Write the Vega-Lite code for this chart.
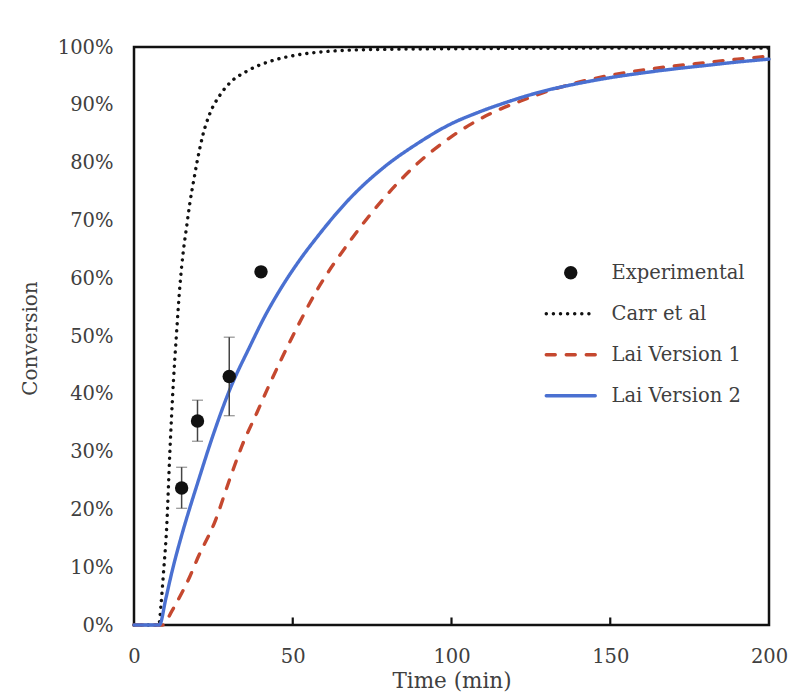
{
  "$schema": "https://vega.github.io/schema/vega-lite/v6.json",
  "width": 635,
  "height": 578,
  "autosize": {"type": "none"},
  "padding": {"left": 134, "top": 47, "right": 31, "bottom": 69},
  "background": "white",
  "config": {
    "view": {"stroke": "#111111", "strokeWidth": 2.5},
    "font": "DejaVu Serif",
    "axis": {"grid": false, "labelFont": "DejaVu Serif", "titleFont": "DejaVu Serif", "labelColor": "#404040", "titleColor": "#404040", "titleFontWeight": "normal"},
    "legend": {"labelFont": "DejaVu Serif", "labelColor": "#404040"}
  },
  "datasets": {
    "xticks": [{"t": 50}, {"t": 100}, {"t": 150}],
    "curves": [
      {"series": "Carr et al", "t": 0, "c": 0},
      {"series": "Carr et al", "t": 7.8, "c": 0},
      {"series": "Carr et al", "t": 8.5, "c": 0.035},
      {"series": "Carr et al", "t": 9.2, "c": 0.084},
      {"series": "Carr et al", "t": 10.3, "c": 0.17},
      {"series": "Carr et al", "t": 11.3, "c": 0.30},
      {"series": "Carr et al", "t": 12.4, "c": 0.42},
      {"series": "Carr et al", "t": 13.4, "c": 0.505},
      {"series": "Carr et al", "t": 14.5, "c": 0.59},
      {"series": "Carr et al", "t": 15.5, "c": 0.645},
      {"series": "Carr et al", "t": 16.6, "c": 0.69},
      {"series": "Carr et al", "t": 17.6, "c": 0.73},
      {"series": "Carr et al", "t": 19, "c": 0.775},
      {"series": "Carr et al", "t": 20, "c": 0.805},
      {"series": "Carr et al", "t": 21.8, "c": 0.85},
      {"series": "Carr et al", "t": 23.9, "c": 0.885},
      {"series": "Carr et al", "t": 27.1, "c": 0.917},
      {"series": "Carr et al", "t": 30.2, "c": 0.938},
      {"series": "Carr et al", "t": 35.5, "c": 0.958},
      {"series": "Carr et al", "t": 43.9, "c": 0.977},
      {"series": "Carr et al", "t": 51.2, "c": 0.986},
      {"series": "Carr et al", "t": 60, "c": 0.992},
      {"series": "Carr et al", "t": 70, "c": 0.995},
      {"series": "Carr et al", "t": 80, "c": 0.996},
      {"series": "Carr et al", "t": 100, "c": 0.997},
      {"series": "Carr et al", "t": 150, "c": 0.998},
      {"series": "Carr et al", "t": 200, "c": 0.998},
      {"series": "Lai Version 1", "t": 0, "c": 0},
      {"series": "Lai Version 1", "t": 9, "c": 0},
      {"series": "Lai Version 1", "t": 12, "c": 0.025},
      {"series": "Lai Version 1", "t": 15, "c": 0.055},
      {"series": "Lai Version 1", "t": 17.6, "c": 0.084},
      {"series": "Lai Version 1", "t": 20, "c": 0.115},
      {"series": "Lai Version 1", "t": 25.5, "c": 0.179},
      {"series": "Lai Version 1", "t": 30, "c": 0.25},
      {"series": "Lai Version 1", "t": 34, "c": 0.31},
      {"series": "Lai Version 1", "t": 38.6, "c": 0.366},
      {"series": "Lai Version 1", "t": 42, "c": 0.408},
      {"series": "Lai Version 1", "t": 50, "c": 0.50},
      {"series": "Lai Version 1", "t": 57.5, "c": 0.578},
      {"series": "Lai Version 1", "t": 68, "c": 0.664},
      {"series": "Lai Version 1", "t": 78.5, "c": 0.737},
      {"series": "Lai Version 1", "t": 89, "c": 0.797},
      {"series": "Lai Version 1", "t": 100, "c": 0.845},
      {"series": "Lai Version 1", "t": 112, "c": 0.884},
      {"series": "Lai Version 1", "t": 122, "c": 0.907},
      {"series": "Lai Version 1", "t": 130, "c": 0.923},
      {"series": "Lai Version 1", "t": 140, "c": 0.939},
      {"series": "Lai Version 1", "t": 150, "c": 0.951},
      {"series": "Lai Version 1", "t": 160, "c": 0.96},
      {"series": "Lai Version 1", "t": 170, "c": 0.967},
      {"series": "Lai Version 1", "t": 180, "c": 0.973},
      {"series": "Lai Version 1", "t": 190, "c": 0.979},
      {"series": "Lai Version 1", "t": 200, "c": 0.984},
      {"series": "Lai Version 2", "t": 0, "c": 0},
      {"series": "Lai Version 2", "t": 8, "c": 0},
      {"series": "Lai Version 2", "t": 10, "c": 0.045},
      {"series": "Lai Version 2", "t": 12, "c": 0.093},
      {"series": "Lai Version 2", "t": 15, "c": 0.155},
      {"series": "Lai Version 2", "t": 17.6, "c": 0.203},
      {"series": "Lai Version 2", "t": 20, "c": 0.245},
      {"series": "Lai Version 2", "t": 25, "c": 0.33},
      {"series": "Lai Version 2", "t": 30, "c": 0.405},
      {"series": "Lai Version 2", "t": 36.5, "c": 0.482},
      {"series": "Lai Version 2", "t": 41, "c": 0.532},
      {"series": "Lai Version 2", "t": 46, "c": 0.58},
      {"series": "Lai Version 2", "t": 52, "c": 0.63},
      {"series": "Lai Version 2", "t": 57.5, "c": 0.67},
      {"series": "Lai Version 2", "t": 68, "c": 0.738},
      {"series": "Lai Version 2", "t": 78.5, "c": 0.791},
      {"series": "Lai Version 2", "t": 89, "c": 0.832},
      {"series": "Lai Version 2", "t": 99.5, "c": 0.866},
      {"series": "Lai Version 2", "t": 108, "c": 0.886},
      {"series": "Lai Version 2", "t": 115, "c": 0.90},
      {"series": "Lai Version 2", "t": 130, "c": 0.925},
      {"series": "Lai Version 2", "t": 140, "c": 0.937},
      {"series": "Lai Version 2", "t": 150, "c": 0.947},
      {"series": "Lai Version 2", "t": 160, "c": 0.955},
      {"series": "Lai Version 2", "t": 170, "c": 0.962},
      {"series": "Lai Version 2", "t": 180, "c": 0.968},
      {"series": "Lai Version 2", "t": 190, "c": 0.974},
      {"series": "Lai Version 2", "t": 200, "c": 0.979}
    ],
    "exp": [
      {"series": "Experimental", "t": 15, "c": 0.237, "lo": 0.202, "hi": 0.273},
      {"series": "Experimental", "t": 20, "c": 0.353, "lo": 0.318, "hi": 0.389},
      {"series": "Experimental", "t": 30, "c": 0.43, "lo": 0.362, "hi": 0.498},
      {"series": "Experimental", "t": 40, "c": 0.611, "lo": null, "hi": null}
    ]
  },
  "layer": [
    {
      "data": {"name": "curves"},
      "mark": {"type": "line", "strokeWidth": 3.4, "strokeCap": "round", "interpolate": "monotone"},
      "encoding": {
        "x": {"field": "t", "type": "quantitative", "scale": {"domain": [0, 200], "nice": false}, "title": "Time (min)",
          "axis": {"values": [0, 50, 100, 150, 200], "domain": false, "ticks": false, "labelFlush": false, "labelFontSize": 19.5, "labelPadding": 22, "title": "Time (min)", "titleFontSize": 21.5, "titlePadding": 5}},
        "y": {"field": "c", "type": "quantitative", "scale": {"domain": [0, 1], "nice": false}, "title": "Conversion",
          "axis": {"values": [0, 0.1, 0.2, 0.3, 0.4, 0.5, 0.6, 0.7, 0.8, 0.9, 1], "format": ".0%", "domain": false, "ticks": false, "labelFontSize": 19.5, "labelPadding": 21, "title": "Conversion", "titleFontSize": 20, "titleX": -104, "titleY": 291, "titleAngle": 270, "titleAlign": "center", "titleBaseline": "middle"}},
        "color": {"field": "series", "type": "nominal",
          "scale": {"domain": ["Experimental", "Carr et al", "Lai Version 1", "Lai Version 2"], "range": ["#111111", "#111111", "#c5482f", "#4a70d1"]},
          "legend": {
            "title": null, "orient": "none", "legendX": 427, "legendY": 216, "padding": 0,
            "symbolSize": 2400, "symbolStrokeWidth": 3.4, "labelFontSize": 19.5, "labelOffset": 31, "rowPadding": 20,
            "encode": {"symbols": {"update": {
              "shape": {"signal": "datum.value === 'Experimental' ? 'circle' : 'stroke'"},
              "size": {"signal": "datum.value === 'Experimental' ? 180 : 2400"},
              "fill": {"signal": "datum.value === 'Experimental' ? '#111111' : 'transparent'"},
              "strokeWidth": {"signal": "datum.value === 'Experimental' ? 0 : 3.4"},
              "strokeCap": {"value": "round"}
            }}}
          }},
        "strokeDash": {"field": "series", "type": "nominal",
          "scale": {"domain": ["Experimental", "Carr et al", "Lai Version 1", "Lai Version 2"], "range": [[1, 0], [0.1, 7], [9, 11], [1, 0]]},
          "legend": null}
      }
    },
    {
      "data": {"name": "xticks"},
      "mark": {"type": "rule", "color": "#111111", "strokeWidth": 2.2},
      "encoding": {
        "x": {"field": "t", "type": "quantitative", "title": "Time (min)"},
        "y": {"datum": 0, "type": "quantitative", "title": "Conversion"},
        "y2": {"datum": 0.013}
      }
    },
    {
      "data": {"name": "exp"},
      "transform": [{"filter": "datum.lo != null"}],
      "mark": {"type": "errorbar", "ticks": {"size": 11, "color": "#444444", "strokeWidth": 1.5}, "rule": {"color": "#444444", "strokeWidth": 1.5}},
      "encoding": {
        "x": {"field": "t", "type": "quantitative", "title": "Time (min)"},
        "y": {"field": "lo", "type": "quantitative", "title": "Conversion"},
        "y2": {"field": "hi"}
      }
    },
    {
      "data": {"name": "exp"},
      "mark": {"type": "point", "filled": true, "color": "#111111", "size": 180, "opacity": 1},
      "encoding": {
        "x": {"field": "t", "type": "quantitative", "title": "Time (min)"},
        "y": {"field": "c", "type": "quantitative", "title": "Conversion"}
      }
    }
  ]
}
